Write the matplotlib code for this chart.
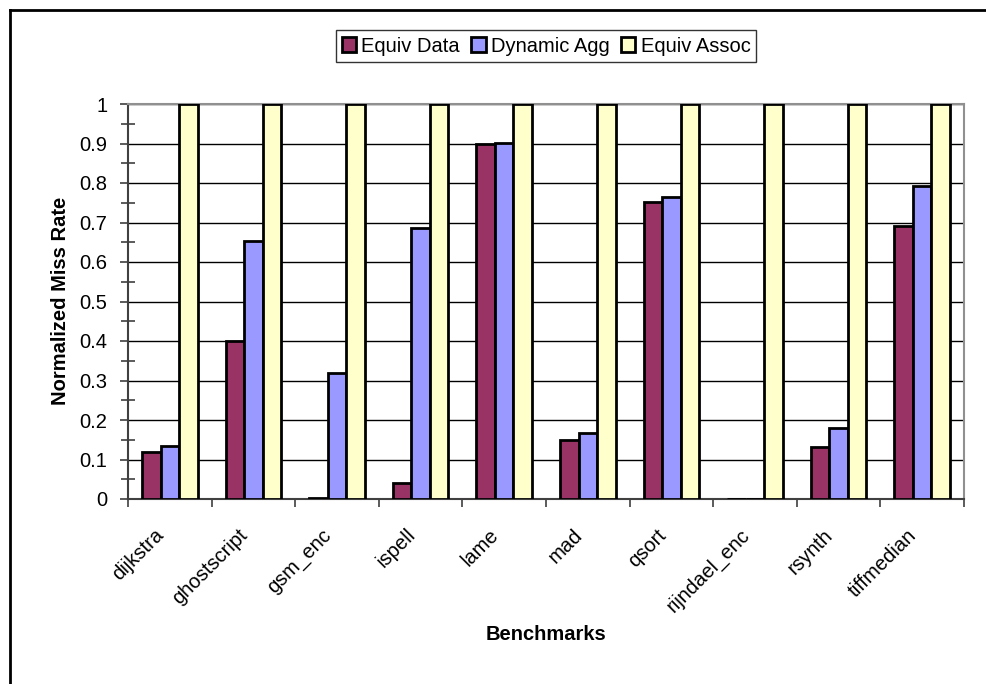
import matplotlib
matplotlib.use("Agg")
import matplotlib.pyplot as plt
import numpy as np
from matplotlib.patches import Patch
from matplotlib.lines import Line2D

plt.rcParams['font.family'] = ['Liberation Sans', 'DejaVu Sans']

categories = ["dijkstra", "ghostscript", "gsm_enc", "ispell", "lame", "mad",
              "qsort", "rijndael_enc", "rsynth", "tiffmedian"]
equiv_data = [0.118, 0.399, 0.002, 0.040, 0.899, 0.150, 0.753, 0.0, 0.132, 0.691]
dynamic_agg = [0.133, 0.653, 0.319, 0.687, 0.902, 0.167, 0.764, 0.0, 0.179, 0.793]
equiv_assoc = [1, 1, 1, 1, 1, 1, 1, 1, 1, 1]
series_names = ["Equiv Data", "Dynamic Agg", "Equiv Assoc"]
colors = ["#993366", "#9999FF", "#FFFFCC"]

FS = 14.5
W, H = 986, 684
fig = plt.figure(figsize=(W / 100, H / 100), dpi=100)
ax = fig.add_axes([128 / W, 1 - 499 / H, (964 - 128) / W, (499 - 104) / H])

n = len(categories)
x = np.arange(n)
bw = 1 / 4.5
for i, (vals, c, name) in enumerate(zip([equiv_data, dynamic_agg, equiv_assoc], colors, series_names)):
    ax.bar(x + (i - 1) * bw, vals, width=bw, color=c, edgecolor="black",
           linewidth=2.0, label=name, zorder=3)

ax.set_xlim(-0.5, n - 0.5)
ax.set_ylim(0, 1)
ax.set_yticks(np.arange(0, 1.01, 0.1))
ax.set_yticklabels(["0"] + [f"{v:.1f}" for v in np.arange(0.1, 0.95, 0.1)] + ["1"], fontsize=FS)
ax.set_yticks(np.arange(0.05, 1.0, 0.1), minor=True)
ax.tick_params(axis="y", which="major", direction="out", length=6, width=1.2, color="#404040", pad=9)
ax.tick_params(axis="y", which="minor", direction="inout", length=10, width=1.2, color="#404040")
ax.yaxis.grid(True, which="major", color="black", linewidth=1.0, zorder=0)

ax.set_xticks(np.arange(-0.5, n, 1.0))
ax.set_xticklabels([])
ax.tick_params(axis="x", which="major", direction="out", length=6, width=1.2, color="#404040")
for i, lab in enumerate(categories):
    ax.annotate(lab, xy=(i, 0), xycoords=("data", "axes fraction"),
                xytext=(-11, -19), textcoords="offset points",
                rotation=45, ha="right", va="top", rotation_mode="anchor", fontsize=FS)

for s in ["top", "right"]:
    ax.spines[s].set_color("#909090")
    ax.spines[s].set_linewidth(1.5)
ax.spines["left"].set_color("#404040")
ax.spines["left"].set_linewidth(1.5)
ax.spines["bottom"].set_color("#404040")
ax.spines["bottom"].set_linewidth(1.5)

fig.text(60 / W, 1 - 301 / H, "Normalized Miss Rate", rotation=90, ha="center", va="center",
         fontsize=FS, fontweight="bold")
fig.text(546 / W, 1 - 635 / H, "Benchmarks", ha="center", va="center", fontsize=FS, fontweight="bold")

handles = [Patch(facecolor=c, edgecolor="black", linewidth=2.0) for c in colors]
leg = fig.legend(handles, series_names, loc="center", bbox_to_anchor=(546 / W, 1 - 46 / H),
                 ncol=3, fontsize=FS, frameon=True, fancybox=False, handlelength=0.7,
                 handleheight=0.7, handletextpad=0.25, columnspacing=0.6, borderpad=0.3)
leg.get_frame().set_edgecolor("black")
leg.get_frame().set_linewidth(1.0)

# outer chart border (left and top visible)
fig.add_artist(Line2D([10 / W, 10 / W], [0, 1 - 10 / H], transform=fig.transFigure, color="black", linewidth=2))
fig.add_artist(Line2D([10 / W, 1], [1 - 10 / H, 1 - 10 / H], transform=fig.transFigure, color="black", linewidth=2))

fig.savefig("out.png", dpi=100)
